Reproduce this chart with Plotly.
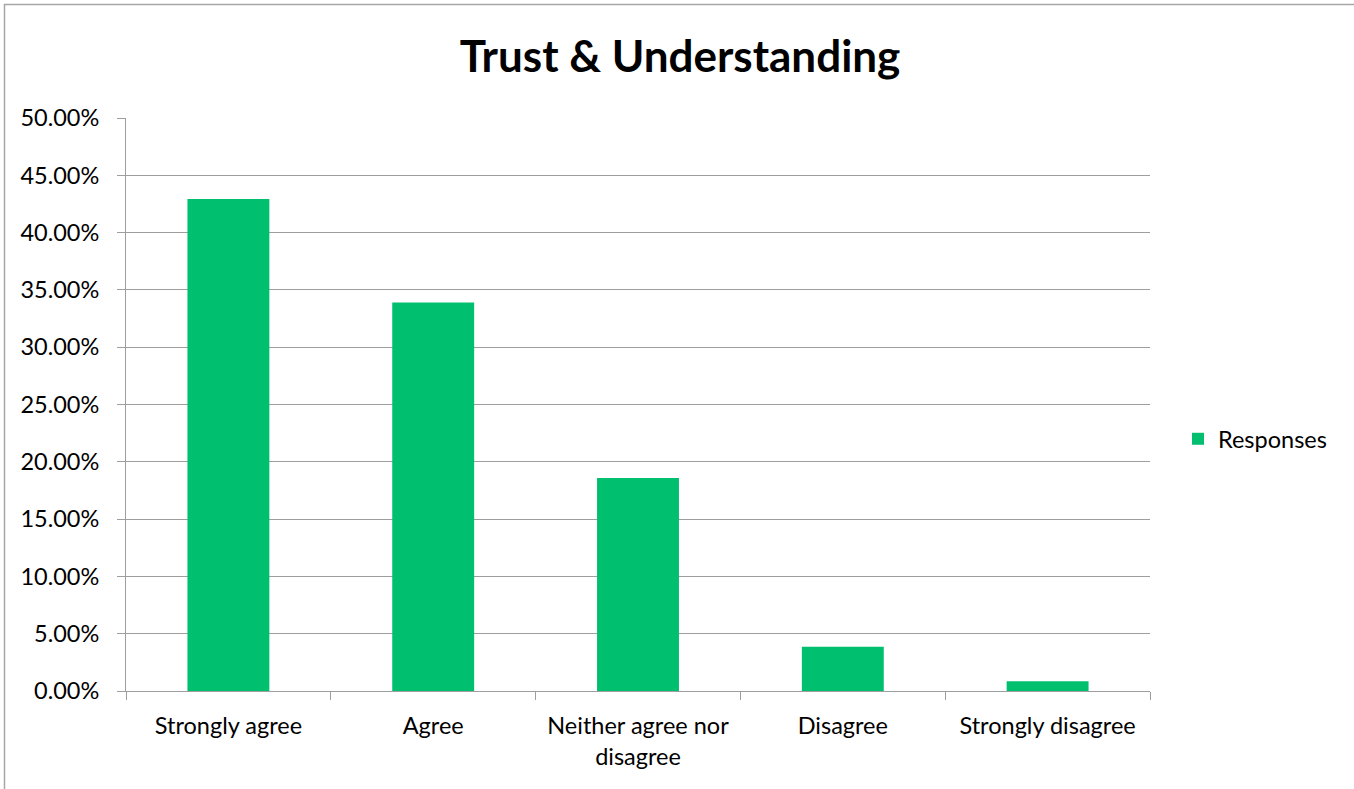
import plotly.graph_objects as go

categories = ["Strongly agree", "Agree", "Neither agree nor<br>disagree", "Disagree", "Strongly disagree"]
responses = [0.4294, 0.3389, 0.1858, 0.0387, 0.0085]
series_name = "Responses"
title_text = "Trust & Understanding"

W, H = 1354, 789
L, R, T, B = 126, 1150, 118, 691  # plot area in pixels

def px_x(p):
    return (p - L) / (R - L)

def px_y(p):
    return (B - p) / (B - T)

FONT = "Lato, Calibri, sans-serif"
GRID = "#9E9E9E"
GREEN = "#00BF6F"
FS = 23.5

fig = go.Figure()
fig.add_trace(go.Bar(
    x=categories, y=responses, name=series_name,
    marker=dict(color=GREEN, line=dict(width=0)),
    showlegend=True,
))

fig.update_layout(
    width=W, height=H,
    margin=dict(l=L, r=W - R, t=T, b=H - B, pad=0),
    paper_bgcolor="white", plot_bgcolor="white",
    font=dict(family=FONT, size=FS, color="#000000"),
    bargap=0.6,
    title=dict(text="<b>" + title_text + "</b>", x=680 / W, xanchor="center",
               y=1 - 57 / H, yanchor="middle",
               font=dict(family=FONT, size=44, color="#000000")),
    showlegend=True,
    legend=dict(x=px_x(1178), y=px_y(439), xanchor="left", yanchor="middle",
                font=dict(family=FONT, size=FS, color="#000000"),
                itemwidth=30, bgcolor="rgba(0,0,0,0)"),
    xaxis=dict(
        showline=True, linecolor=GRID, linewidth=1,
        ticks="outside", ticklen=8, tickcolor=GRID, tickwidth=1,
        tickson="boundaries", showgrid=False,
        ticklabelstandoff=14,
        tickfont=dict(family=FONT, size=FS, color="#000000"),
    ),
    yaxis=dict(
        range=[0, 0.5], dtick=0.05, tick0=0, tickformat=".2%",
        showline=True, linecolor=GRID, linewidth=1,
        ticks="outside", ticklen=8, tickcolor=GRID, tickwidth=1,
        showgrid=True, gridcolor=GRID, gridwidth=1,
        zeroline=False,
        ticklabelstandoff=13,
        tickfont=dict(family=FONT, size=FS, color="#000000"),
    ),
    shapes=[dict(type="rect", xref="paper", yref="paper",
                 x0=px_x(4.5), x1=px_x(W + 20), y0=px_y(H + 20), y1=px_y(4.5),
                 line=dict(color="#A6A6A6", width=1.5), fillcolor="rgba(0,0,0,0)",
                 layer="below")],
)

fig.write_html("out.html", config={"displayModeBar": False},
               post_script="document.body.style.margin='0';")
